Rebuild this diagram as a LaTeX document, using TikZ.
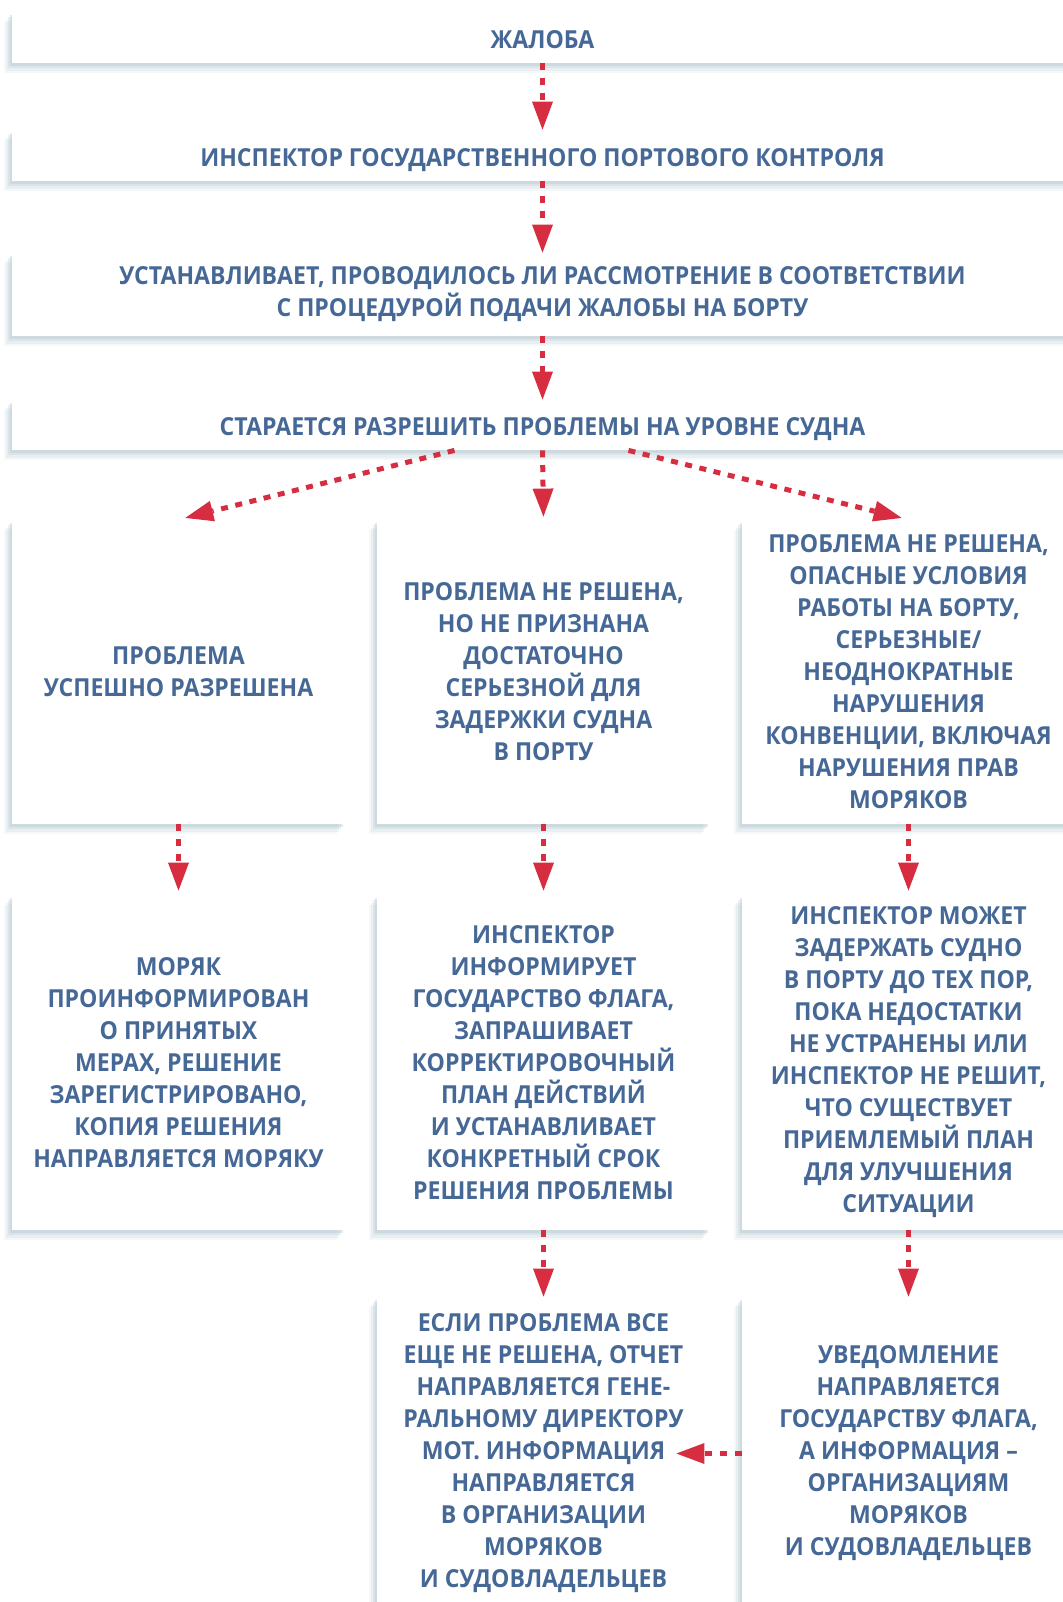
\documentclass[tikz,border=0pt]{standalone}
\usepackage{fontspec}
\setmainfont{Open Sans}[FakeStretch=0.93]
\usepackage{tikz}
\usetikzlibrary{arrows.meta,positioning,calc,shadows}

\definecolor{txtblue}{RGB}{69,104,150}
\definecolor{flowred}{RGB}{214,45,64}
\definecolor{shadegray}{RGB}{176,196,206}

\begin{document}
\begin{tikzpicture}[x=0.5pt, y=-0.5pt,
  box/.style={fill=white, inner sep=0pt, align=center, text=txtblue,
    font=\fontsize{12.4}{16}\selectfont\bfseries,
    general shadow={fill=shadegray, opacity=.12, shadow xshift=-4pt, shadow yshift=-5pt},
    general shadow={fill=shadegray, opacity=.18, shadow xshift=-3pt, shadow yshift=-3.8pt},
    general shadow={fill=shadegray, opacity=.25, shadow xshift=-2pt, shadow yshift=-2.6pt},
    general shadow={fill=shadegray, opacity=.35, shadow xshift=-1pt, shadow yshift=-1.4pt}},
  wide/.style={box, minimum width=530.5pt},
  oneline/.style={text height=10.9pt, text depth=0pt},
  cell/.style={box, minimum width=166.5pt},
  flow/.style={draw=flowred, line width=2.5pt, dash pattern=on 3.5pt off 3.8pt,
    -{Triangle[length=14pt, width=10.5pt, line width=0pt, fill=flowred]}}]
\useasboundingbox (0,0) rectangle (1062,1602);

% top row
\node[wide, oneline, minimum height=25.5pt] (b1) at (542.5,37.5) {ЖАЛОБА};
\node[wide, oneline, minimum height=25.5pt] (b2) at (542.5,155.5) {ИНСПЕКТОР ГОСУДАРСТВЕННОГО ПОРТОВОГО КОНТРОЛЯ};
\node[wide, minimum height=41.5pt] (b3) at (542.5,294.5) {УСТАНАВЛИВАЕТ, ПРОВОДИЛОСЬ ЛИ РАССМОТРЕНИЕ В СООТВЕТСТВИИ\\С ПРОЦЕДУРОЙ ПОДАЧИ ЖАЛОБЫ НА БОРТУ};
\node[wide, oneline, minimum height=25pt] (b4) at (542.5,425) {СТАРАЕТСЯ РАЗРЕШИТЬ ПРОБЛЕМЫ НА УРОВНЕ СУДНА};

% three columns
\node[cell, minimum height=152pt] (c1) at (178.5,672) {ПРОБЛЕМА\\УСПЕШНО РАЗРЕШЕНА};
\node[cell, minimum height=152pt] (c2) at (543.5,672) {ПРОБЛЕМА НЕ РЕШЕНА,\\НО НЕ ПРИЗНАНА\\ДОСТАТОЧНО\\СЕРЬЕЗНОЙ ДЛЯ\\ЗАДЕРЖКИ СУДНА\\В ПОРТУ};
\node[cell, minimum height=152pt] (c3) at (908.5,672) {ПРОБЛЕМА НЕ РЕШЕНА,\\ОПАСНЫЕ УСЛОВИЯ\\РАБОТЫ НА БОРТУ,\\СЕРЬЕЗНЫЕ/\\НЕОДНОКРАТНЫЕ\\НАРУШЕНИЯ\\КОНВЕНЦИИ, ВКЛЮЧАЯ\\НАРУШЕНИЯ ПРАВ\\МОРЯКОВ};

\node[cell, minimum height=167.5pt] (d1) at (178.5,1062.5) {МОРЯК\\ПРОИНФОРМИРОВАН\\О ПРИНЯТЫХ\\МЕРАХ, РЕШЕНИЕ\\ЗАРЕГИСТРИРОВАНО,\\КОПИЯ РЕШЕНИЯ\\НАПРАВЛЯЕТСЯ МОРЯКУ};
\node[cell, minimum height=167.5pt] (d2) at (543.5,1062.5) {ИНСПЕКТОР\\ИНФОРМИРУЕТ\\ГОСУДАРСТВО ФЛАГА,\\ЗАПРАШИВАЕТ\\КОРРЕКТИРОВОЧНЫЙ\\ПЛАН ДЕЙСТВИЙ\\И УСТАНАВЛИВАЕТ\\КОНКРЕТНЫЙ СРОК\\РЕШЕНИЯ ПРОБЛЕМЫ};
\node[cell, minimum height=167.5pt] (d3) at (908.5,1062.5) {ИНСПЕКТОР МОЖЕТ\\ЗАДЕРЖАТЬ СУДНО\\В ПОРТУ ДО ТЕХ ПОР,\\ПОКА НЕДОСТАТКИ\\НЕ УСТРАНЕНЫ ИЛИ\\ИНСПЕКТОР НЕ РЕШИТ,\\ЧТО СУЩЕСТВУЕТ\\ПРИЕМЛЕМЫЙ ПЛАН\\ДЛЯ УЛУЧШЕНИЯ\\СИТУАЦИИ};

\node[cell, minimum height=156.5pt] (e2) at (543.5,1453.5) {ЕСЛИ ПРОБЛЕМА ВСЕ\\ЕЩЕ НЕ РЕШЕНА, ОТЧЕТ\\НАПРАВЛЯЕТСЯ ГЕНЕ-\\РАЛЬНОМУ ДИРЕКТОРУ\\МОТ. ИНФОРМАЦИЯ\\НАПРАВЛЯЕТСЯ\\В ОРГАНИЗАЦИИ\\МОРЯКОВ\\И СУДОВЛАДЕЛЬЦЕВ};
\node[cell, minimum height=156.5pt] (e3) at (908.5,1453.5) {УВЕДОМЛЕНИЕ\\НАПРАВЛЯЕТСЯ\\ГОСУДАРСТВУ ФЛАГА,\\А ИНФОРМАЦИЯ –\\ОРГАНИЗАЦИЯМ\\МОРЯКОВ\\И СУДОВЛАДЕЛЬЦЕВ};

% arrows
\draw[flow] (b1) -- (b2);
\draw[flow] (b2) -- (b3);
\draw[flow] (b3) -- (b4);
\draw[flow, shorten >=3.5pt] ([xshift=-44pt]b4.south) -- (c1.north);
\draw[flow, shorten >=1.5pt] (b4.south) -- (c2.north);
\draw[flow, shorten >=3.5pt] ([xshift=43pt]b4.south) -- (c3.north);
\draw[flow, shorten >=2pt] (c1) -- (d1);
\draw[flow, shorten >=2pt] (c2) -- (d2);
\draw[flow, shorten >=2pt] (c3) -- (d3);
\draw[flow] (d2) -- (e2);
\draw[flow] (d3) -- (e3);
\draw[flow, shorten >=-17pt] (e3) -- (e2);
\end{tikzpicture}
\end{document}
